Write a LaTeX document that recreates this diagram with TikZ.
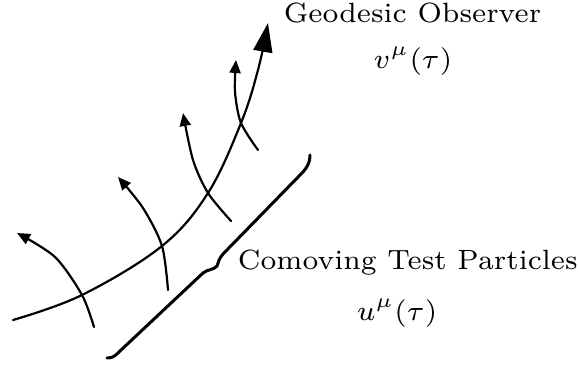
\documentclass[tikz,border=0pt]{standalone}
\usetikzlibrary{arrows.meta}
\begin{document}
\begin{tikzpicture}[x=1pt,y=-1pt,
  worldline/.style={line width=2.2pt,line cap=round},
  particle/.style={worldline,-{Triangle[length=13pt,width=11pt]}},
  observer/.style={worldline,-{Triangle[length=29pt,width=19pt]}},
  bracepath/.style={line width=3pt,line cap=round,line join=round},
  lbl/.style={inner sep=0pt,scale=3.98,font=\fontsize{7}{8}\selectfont}]
\useasboundingbox (0,0) rectangle (579,367);
% geodesic observer
\draw[observer] plot[smooth,tension=0.6] coordinates {(13,320) (82,295) (162,246) (208,193) (241,123) (258,70) (268,23)};
% comoving test particles
\draw[particle] plot[smooth] coordinates {(94,327) (82,295) (55,257) (17,233)};
\draw[particle] plot[smooth] coordinates {(168,290) (162,246) (143,208) (118,177)};
\draw[particle] plot[smooth] coordinates {(231,221) (208,193) (193,160) (183,113)};
\draw[particle] plot[smooth] coordinates {(258,150) (241,123) (235,92) (236,60)};
% brace
\draw[bracepath] (107,358) .. controls (113,358) and (115,356) .. (120,351) -- (203,273)
  .. controls (208,269) and (214,270) .. (217,266)
  .. controls (218,262) and (219,259) .. (223,254) -- (303,172)
  .. controls (308,166) and (310,162) .. (310,155);
% labels
\node[lbl,anchor=base west] (geo) at (283,22) {Geodesic Observer};
\node[lbl,anchor=base] (vmu) at (413,68) {$v^\mu(\tau)$};
\node[lbl,anchor=base west] (com) at (237,269) {Comoving Test Particles};
\node[lbl,anchor=base] (umu) at (397,320) {$u^\mu(\tau)$};
\end{tikzpicture}
\end{document}
